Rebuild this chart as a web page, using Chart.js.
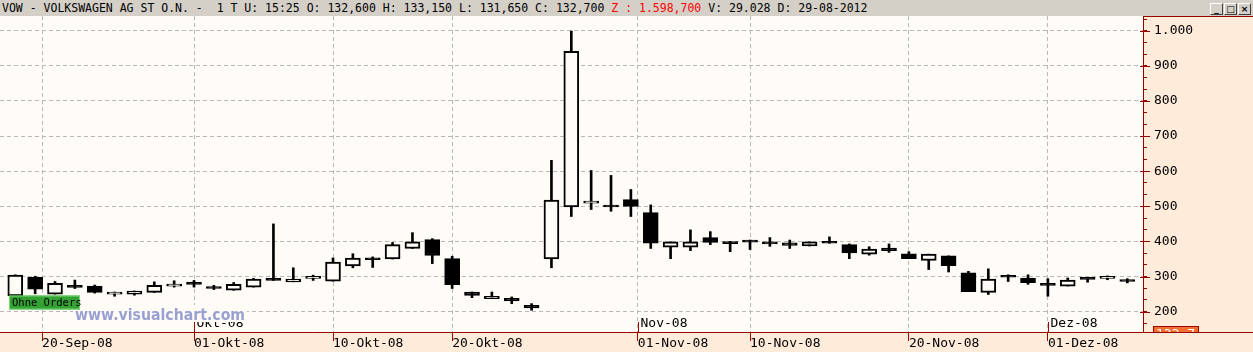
<!DOCTYPE html>
<html>
<head>
<meta charset="utf-8">
<script src="https://cdn.jsdelivr.net/npm/chart.js@4.4.0/dist/chart.umd.min.js"></script>
<style>
  body { margin: 0; width: 1253px; height: 352px; overflow: hidden; background: #fff; }
  #head { position: relative; height: 16px; background: #d4d0c8; color: #000;
          font: 11.5px "DejaVu Sans Mono", monospace; line-height: 16px; white-space: pre; padding-left: 2px; }
  #head .z { color: #f00; }
  #btns { position: absolute; right: 2px; top: 3px; display: flex; }
  #btns span { width: 11px; height: 10px; margin-left: 1px; background: #d4d0c8; color: #000;
               border: 1px solid; border-color: #fff #404040 #404040 #fff;
               font: bold 9px "DejaVu Sans", sans-serif; line-height: 10px; text-align: center; }
  canvas { display: block; }
</style>
</head>
<body>
<div id="head"><span>VOW - VOLKSWAGEN AG ST O.N. -  1 T U: 15:25 O: 132,600 H: 133,150 L: 131,650 C: 132,700 </span><span class="z">Z : 1.598,700</span><span> V: 29.028 D: 29-08-2012</span><div id="btns"><span>_</span><span>□</span><span>×</span></div></div>
<canvas id="chart" width="1253" height="336"></canvas>
<script>
// trading days shown, 18-Sep-08 .. 05-Dez-08
const dates = [
  '2008-09-18','2008-09-19','2008-09-22','2008-09-23','2008-09-24','2008-09-25','2008-09-26','2008-09-29','2008-09-30',
  '2008-10-01','2008-10-02','2008-10-03','2008-10-06','2008-10-07','2008-10-08','2008-10-09','2008-10-10','2008-10-13',
  '2008-10-14','2008-10-15','2008-10-16','2008-10-17','2008-10-20','2008-10-21','2008-10-22','2008-10-23','2008-10-24',
  '2008-10-27','2008-10-28','2008-10-29','2008-10-30','2008-10-31',
  '2008-11-03','2008-11-04','2008-11-05','2008-11-06','2008-11-07','2008-11-10','2008-11-11','2008-11-12','2008-11-13',
  '2008-11-14','2008-11-17','2008-11-18','2008-11-19','2008-11-20','2008-11-21','2008-11-24','2008-11-25','2008-11-26',
  '2008-11-27','2008-11-28',
  '2008-12-01','2008-12-02','2008-12-03','2008-12-04','2008-12-05'
]
const opens  = [245,298,250,275,273,250,250,255,273,282,267,261,270,290,285,295,287,330,353,350,380,405,351,256,237,238,218,
                350,498,509,499,519,482,384,384,411,399,399,396,396,387,400,391,364,381,365,346,359,311,255,299,296,276,273,293,295,287]
const highs  = [305,301,286,290,276,256,259,285,288,289,275,283,295,450,325,304,353,365,356,397,425,408,358,256,256,242,223,
                631,999,602,588,548,504,399,433,428,400,404,411,404,399,413,393,385,393,371,364,359,315,322,305,305,294,296,293,302,294]
const lows   = [240,251,250,266,253,244,247,255,270,270,263,261,270,289,285,289,287,325,326,350,380,337,266,240,237,223,204,
                325,471,491,486,471,380,351,374,391,371,377,386,380,387,395,351,361,369,351,320,313,257,249,286,278,244,273,284,291,282]
const closes = [304,264,281,269,255,256,259,275,278,278,266,278,293,289,293,296,341,353,348,391,399,360,277,246,244,231,211,
                518,941,515,498,500,395,399,399,397,394,398,393,389,399,395,367,378,374,351,364,331,257,293,298,283,275,290,292,295,286]

const tickDates  = ['2008-09-20','2008-10-01','2008-10-10','2008-10-20','2008-11-01','2008-11-10','2008-11-20','2008-12-01']
const tickLabels = ['20-Sep-08','01-Okt-08','10-Okt-08','20-Okt-08','01-Nov-08','10-Nov-08','20-Nov-08','01-Dez-08']
const monthDates  = ['2008-10-01','2008-11-01','2008-12-01']
const monthLabels = ['Okt-08','Nov-08','Dez-08']
const priceMin = 142.2, priceMax = 1041.9

const AXIS = '#990000'
const PLOT_BG = '#fffbf7'
const PANEL_BG = '#feebda'
const MONO = '"DejaVu Sans Mono", monospace'

// position of a date on the index axis (weekend dates fall just after the previous session)
function posOf(d) {
  const i = dates.findIndex(x => x >= d)
  return dates[i] === d ? i : i - 0.65
}
function isMajor(v) { return Math.abs(v / 100 - Math.round(v / 100)) < 1e-6 }
function fmt(v) {
  v = Math.round(v)
  return v >= 1000 ? Math.floor(v / 1000) + '.' + String(v % 1000).padStart(3, '0') : String(v)
}

const yTicks = []
for (let k = -1; k <= 25; k++) yTicks.push(200 + k * 100 / 3)

const decor = {
  id: 'decor',
  beforeDraw(chart) {
    const c = chart.ctx, a = chart.chartArea
    c.save()
    c.fillStyle = PANEL_BG
    c.fillRect(0, 0, chart.width, chart.height)
    c.fillStyle = PLOT_BG
    c.fillRect(a.left, a.top, a.right - a.left, a.bottom - a.top)
    c.restore()
  },
  afterDraw(chart) {
    const c = chart.ctx, a = chart.chartArea, xs = chart.scales.x, ys = chart.scales.y
    c.save()
    // month markers
    c.font = '13px ' + MONO
    c.textBaseline = 'middle'
    c.textAlign = 'left'
    monthDates.forEach((d, i) => {
      const px = Math.round(xs.getPixelForValue(posOf(d))) + 0.5
      c.strokeStyle = AXIS
      c.lineWidth = 1
      c.beginPath(); c.moveTo(px, a.bottom - 10); c.lineTo(px, a.bottom); c.stroke()
      c.fillStyle = '#000'
      c.fillText(monthLabels[i], px + 2, a.bottom - 8)
    })
    // watermark
    c.fillStyle = PLOT_BG
    c.fillRect(73, 289, 174, 17)
    c.font = 'bold 16px "DejaVu Sans", sans-serif'
    c.fillStyle = 'rgba(128,138,200,0.8)'
    c.fillText('www.visualchart.com', 75, 299.5, 170)
    // order label
    c.fillStyle = '#33a233'
    c.fillRect(9, 279.5, 71, 14)
    c.strokeStyle = '#74d874'
    c.strokeRect(9.5, 280, 70, 13)
    c.fillStyle = '#000'
    c.font = '10.5px ' + MONO
    c.fillText('Ohne Orders', 12, 287)
    // axis lines and major ticks crossing the price axis
    c.strokeStyle = AXIS
    c.lineWidth = 1
    c.beginPath()
    c.moveTo(a.right + 0.5, 0); c.lineTo(a.right + 0.5, a.bottom)
    c.moveTo(a.right, 0.5); c.lineTo(chart.width, 0.5)
    yTicks.filter(isMajor).forEach(v => {
      const py = Math.round(ys.getPixelForValue(v)) + 0.5
      c.moveTo(a.right - 3, py); c.lineTo(a.right + 7, py)
    })
    c.stroke()
    // last price box, clipped by the date panel
    c.save()
    c.beginPath(); c.rect(a.right, 0, chart.width - a.right, a.bottom); c.clip()
    c.fillStyle = '#f36f2f'
    c.fillRect(1153, 310.5, 45, 15)
    c.strokeStyle = AXIS
    c.strokeRect(1153.5, 310.5, 45, 15)
    c.fillStyle = '#fff'
    c.font = '13px ' + MONO
    c.fillText('132,7', 1156, 318.5)
    c.restore()
    c.strokeStyle = AXIS
    c.beginPath(); c.moveTo(0, a.bottom + 0.5); c.lineTo(chart.width, a.bottom + 0.5); c.stroke()
    c.restore()
  }
}

new Chart(document.getElementById('chart'), {
  type: 'bar',
  data: {
    datasets: [
      {
        label: 'body',
        data: dates.map((d, i) => ({ x: i, y: [opens[i], closes[i]] })),
        backgroundColor: ctx => (ctx.raw && ctx.raw.y[1] >= ctx.raw.y[0]) ? PLOT_BG : '#000',
        borderColor: '#000',
        borderWidth: 2,
        borderSkipped: false,
        barThickness: 15,
        minBarLength: 2,
        grouped: false,
        order: 1
      },
      {
        label: 'wick',
        data: dates.map((d, i) => ({ x: i, y: [lows[i], highs[i]] })),
        backgroundColor: '#000',
        borderWidth: 0,
        barThickness: 2,
        grouped: false,
        order: 2
      }
    ]
  },
  options: {
    responsive: false,
    animation: false,
    devicePixelRatio: 1,
    layout: { padding: 0 },
    plugins: { legend: { display: false }, tooltip: { enabled: false } },
    scales: {
      x: {
        type: 'linear',
        offset: false,
        min: -0.77,
        max: 56.79,
        afterBuildTicks: s => { s.ticks = tickDates.map(d => ({ value: posOf(d) })) },
        afterFit: s => { s.height = 20; s.paddingLeft = 0; s.paddingRight = 0 },
        ticks: {
          callback: (v, i) => tickLabels[i],
          align: 'start',
          padding: -5,
          autoSkip: false,
          maxRotation: 0,
          color: '#000',
          font: { family: MONO, size: 13 }
        },
        grid: { offset: false, color: '#b8b8b8', lineWidth: 1, tickColor: AXIS, tickLength: 9 },
        border: { display: false, dash: [4, 3] }
      },
      y: {
        position: 'right',
        min: priceMin,
        max: priceMax,
        afterBuildTicks: s => { s.ticks = yTicks.map(v => ({ value: v })) },
        afterFit: s => { s.width = 110; s.paddingTop = 0; s.paddingBottom = 0 },
        ticks: {
          callback: v => isMajor(v) ? fmt(v) : '',
          padding: 7,
          autoSkip: false,
          color: '#000',
          font: { family: MONO, size: 13 }
        },
        grid: {
          color: ctx => (ctx.tick && isMajor(ctx.tick.value)) ? '#b8b8b8' : 'rgba(0,0,0,0)',
          lineWidth: 1,
          tickColor: AXIS,
          tickLength: 4
        },
        border: { display: false, dash: [4, 3] }
      }
    }
  },
  plugins: [decor]
})
</script>
</body>
</html>
